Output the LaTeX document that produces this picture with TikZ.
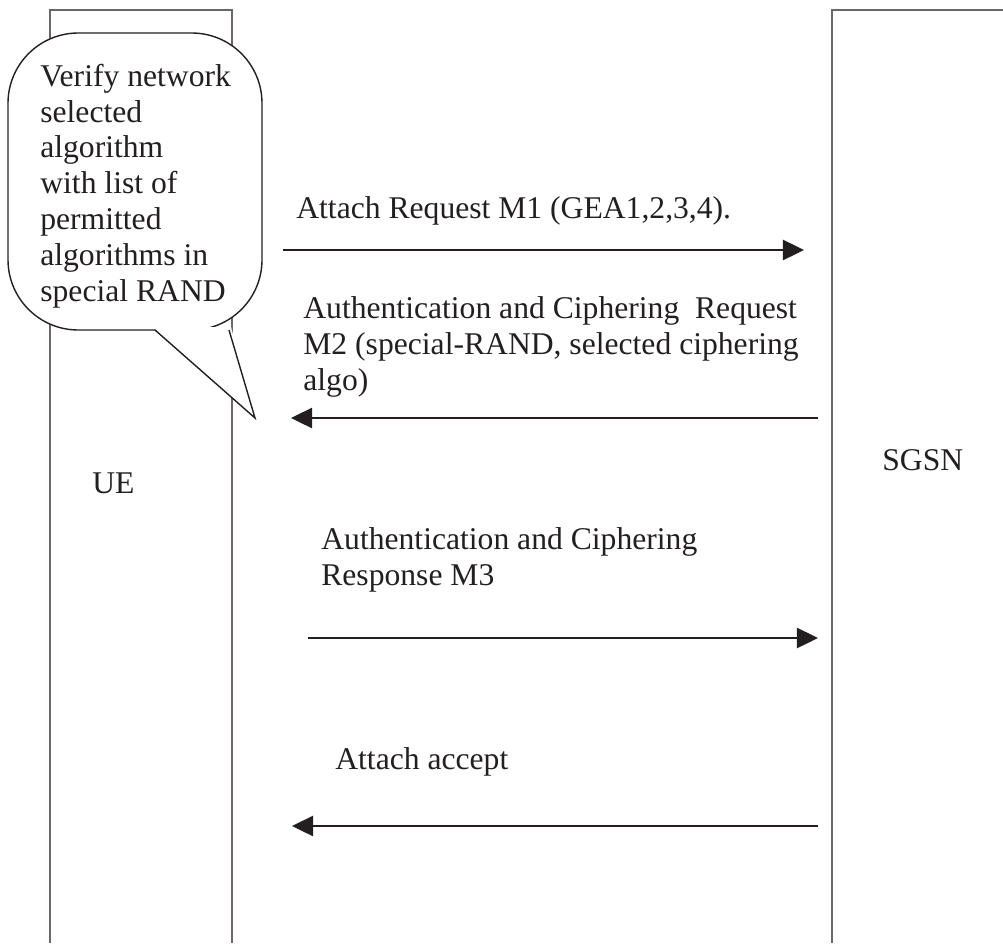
\documentclass[tikz,border=0pt]{standalone}
\usepackage{fontspec}
\setmainfont{Liberation Serif}
\usetikzlibrary{arrows.meta}

\definecolor{boxgray}{RGB}{110,102,102}
\definecolor{inkdark}{RGB}{35,31,32}

\tikzset{
  lifeline/.style={line width=0.8pt, color=boxgray},
  msg/.style={line width=1.1pt, color=inkdark, -{Triangle[length=12pt,width=11.5pt]}},
  msglabel/.style={anchor=west, align=left, inner sep=0pt, text=inkdark,
    font=\fontsize{18}{20.4}\selectfont},
}

\begin{document}
\begin{tikzpicture}[x=0.02cm, y=-0.02cm]
		%%%%% START %%%%%
		\useasboundingbox (0,0) rectangle (1003,943);
		
		% the two entities, left open at the bottom
		\draw[lifeline] (50,943) -- (50,10) -- (232,10) -- (232,943);
		\draw[lifeline] (832,943) -- (832,10) -- (1003,10);
		
		\node[msglabel] (ue) at (92,483) {UE};
		\node[msglabel] (sgsn) at (882,460) {SGSN};
		
		% speech bubble over the UE
		\draw[line width=0.8pt, color=inkdark, fill=white, rounded corners=40] (8,33) rectangle (262,330);
		\fill[white] (153,327) -- (255,418) -- (231,327) -- cycle;
		\draw[line width=0.8pt, color=inkdark] (155,330) -- (255,418) -- (229,330);
		\node[msglabel] (note) at (40,186) {Verify network\\selected\\algorithm\\with list of\\permitted\\algorithms in\\special RAND};
		
		% M1
		\coordinate (m1a) at (283,250);
		\coordinate (m1b) at (804,250);
		\draw[msg] (m1a) -- (m1b);
		\node[msglabel] (m1) at (296,211) {Attach Request M1 (GEA1,2,3,4).};
		
		% M2
		\coordinate (m2a) at (818,418);
		\coordinate (m2b) at (291,418);
		\draw[msg] (m2a) -- (m2b);
		\node[msglabel] (m2) at (303,347) {Authentication and Ciphering\ \ Request\\M2 (special-RAND, selected ciphering\\algo)};
		
		% M3
		\coordinate (m3a) at (308,638);
		\coordinate (m3b) at (818,638);
		\draw[msg] (m3a) -- (m3b);
		\node[msglabel] (m3) at (321,560) {Authentication and Ciphering\\Response M3};
		
		% attach accept
		\coordinate (m4a) at (818,826);
		\coordinate (m4b) at (292,826);
		\draw[msg] (m4a) -- (m4b);
		\node[msglabel] (m4) at (335,762) {Attach accept};
		
		%%%%% END %%%%%
\end{tikzpicture}
\end{document}
